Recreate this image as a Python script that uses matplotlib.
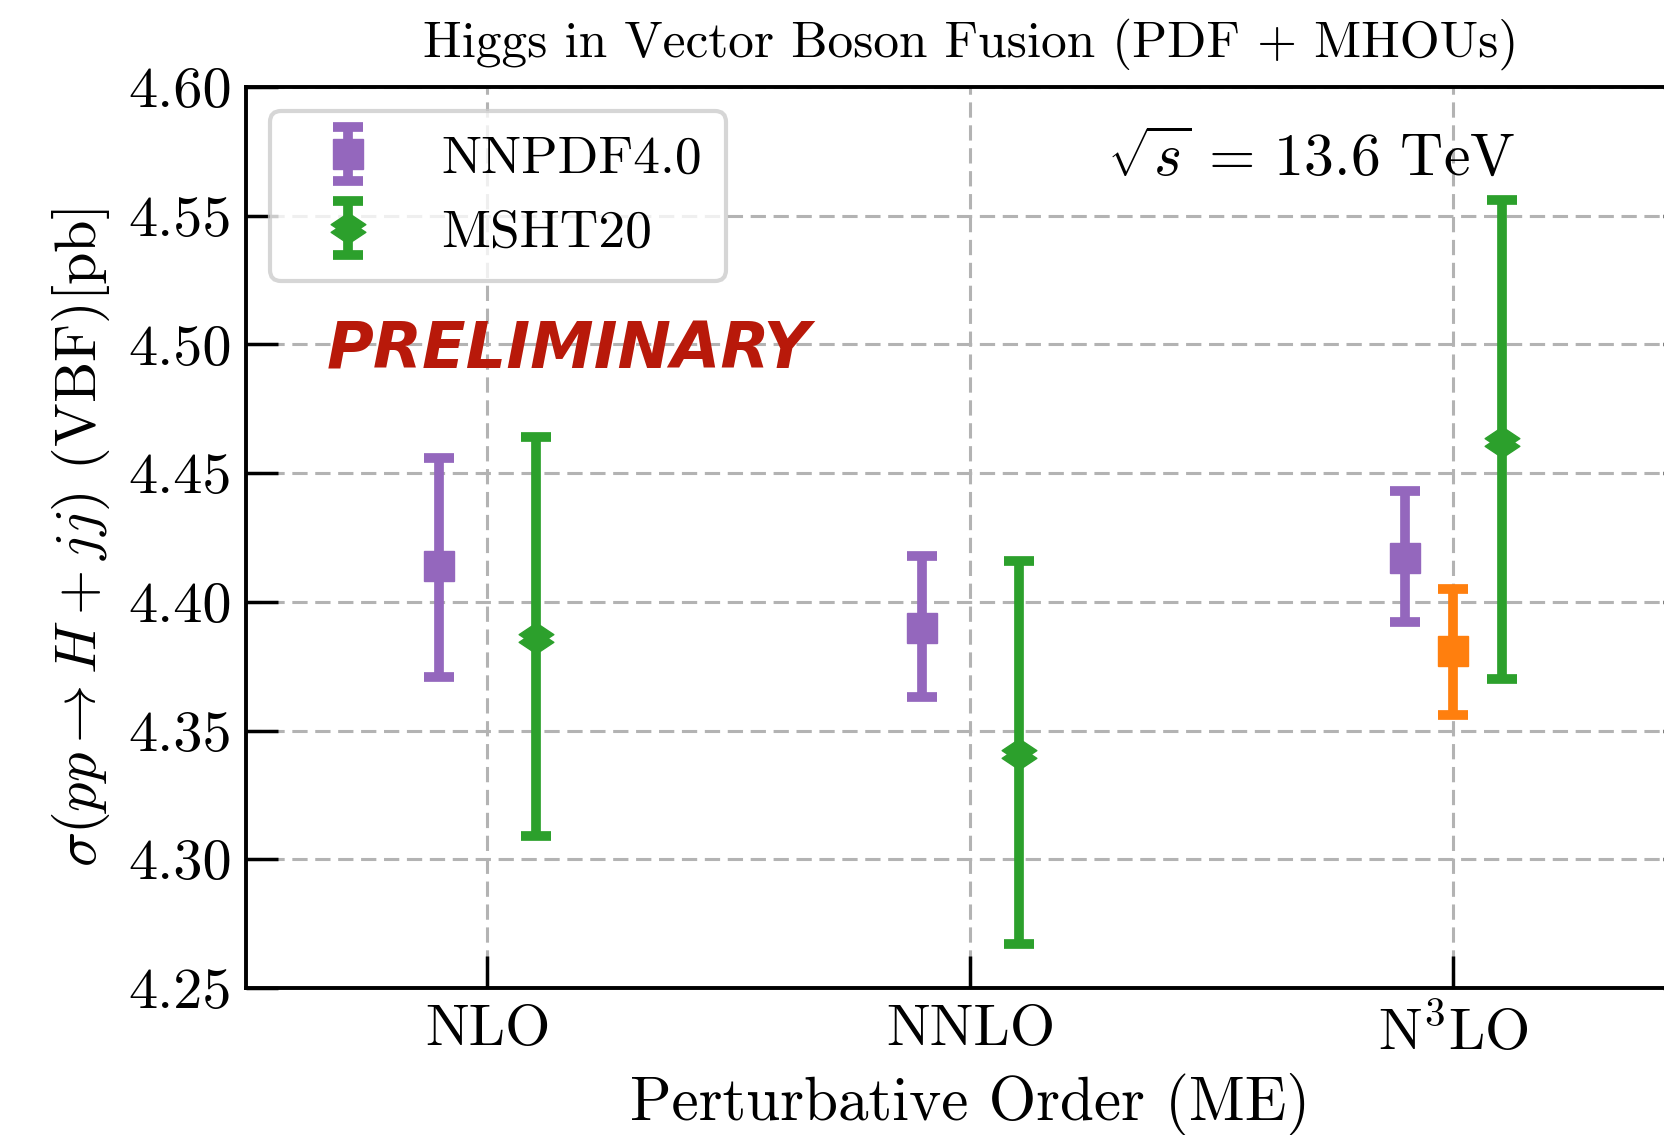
import numpy as np
import matplotlib
matplotlib.use("Agg")
import matplotlib.pyplot as plt
from matplotlib.path import Path

plt.rcParams['font.family'] = 'serif'
plt.rcParams['font.serif'] = ['cmr10']
plt.rcParams['mathtext.fontset'] = 'cm'
plt.rcParams['axes.unicode_minus'] = False
plt.rcParams['axes.formatter.use_mathtext'] = True

# data
orders = ['NLO', 'NNLO', r'N$^3$LO']
nnpdf_central = [4.414, 4.390, 4.417]
nnpdf_low = [4.371, 4.363, 4.392]
nnpdf_high = [4.456, 4.418, 4.443]
msht_central = [4.386, 4.341, 4.462]
msht_low = [4.309, 4.267, 4.370]
msht_high = [4.464, 4.416, 4.556]
extra_order = [2]
extra_central = [4.381]
extra_low = [4.356]
extra_high = [4.405]

purple = '#9467bd'
green = '#2ca02c'
orange = '#ff7f0e'

# double diamond marker (two overlapping diamonds)
dd_verts = [(0, 40), (45, 10), (30, 0), (45, -10), (0, -40), (-45, -10),
            (-30, 0), (-45, 10), (0, 40)]
dd_marker = Path(dd_verts, closed=True)

x = np.arange(len(orders))
off = 0.1


def err(c, lo, hi):
    c, lo, hi = np.array(c), np.array(lo), np.array(hi)
    return [c - lo, hi - c]


fig = plt.figure(figsize=(16.65, 11.35), dpi=100)
ax = fig.add_axes([246 / 1665, 147 / 1135, 1449 / 1665, 901 / 1135])

eb_kw = dict(linestyle='none', capsize=10.5, capthick=7, elinewidth=7, zorder=3)
ax.errorbar(x - off, nnpdf_central, yerr=err(nnpdf_central, nnpdf_low, nnpdf_high),
            marker='s', ms=21, color=purple, label='NNPDF4.0', **eb_kw)
ax.errorbar(x + off, msht_central, yerr=err(msht_central, msht_low, msht_high),
            marker=dd_marker, ms=25, color=green, label='MSHT20', **eb_kw)
ax.errorbar(np.array(extra_order), extra_central, yerr=err(extra_central, extra_low, extra_high),
            marker='s', ms=21, color=orange, **eb_kw)

ax.set_xlim(-0.5, 2.5)
ax.set_ylim(4.25, 4.60)
ax.set_xticks(x)
ax.set_xticklabels(orders)
ax.set_yticks(np.arange(4.25, 4.601, 0.05))
ax.yaxis.set_major_formatter(matplotlib.ticker.FormatStrFormatter('%.2f'))
ax.tick_params(axis='both', direction='in', length=23, width=2.5, labelsize=42, pad=12)
ax.tick_params(axis='y', right=True, pad=10)
for s in ax.spines.values():
    s.set_linewidth(2.8)
ax.grid(True, color='#b3b3b3', linestyle=(0, (5, 2.5)), linewidth=2.2, zorder=0)

ax.set_title('Higgs in Vector Boson Fusion (PDF + MHOUs)', fontsize=37, pad=22)
ax.set_xlabel('Perturbative Order (ME)', fontsize=44, labelpad=9)
ax.set_ylabel(r'$\sigma(pp \to H+jj)$ (VBF)[pb]', fontsize=42, labelpad=12)

ax.text(0.876, 0.92, r'$\sqrt{s}\,=\,13.6$ TeV', transform=ax.transAxes,
        ha='right', va='center', fontsize=43)
ax.text(0.056, 0.708, 'PRELIMINARY', transform=ax.transAxes, ha='left', va='center',
        fontsize=46, fontweight='bold', fontstyle='italic', color='#b8190a',
        family='DejaVu Sans')

leg = ax.legend(loc='upper left', fontsize=38.5, borderaxespad=0.45, handletextpad=0.75,
                labelspacing=0.5, handlelength=2.0, borderpad=0.45, framealpha=0.8)
leg.get_frame().set_edgecolor('#cccccc')
leg.get_frame().set_linewidth(3)

fig.savefig('out.png', dpi=100)
